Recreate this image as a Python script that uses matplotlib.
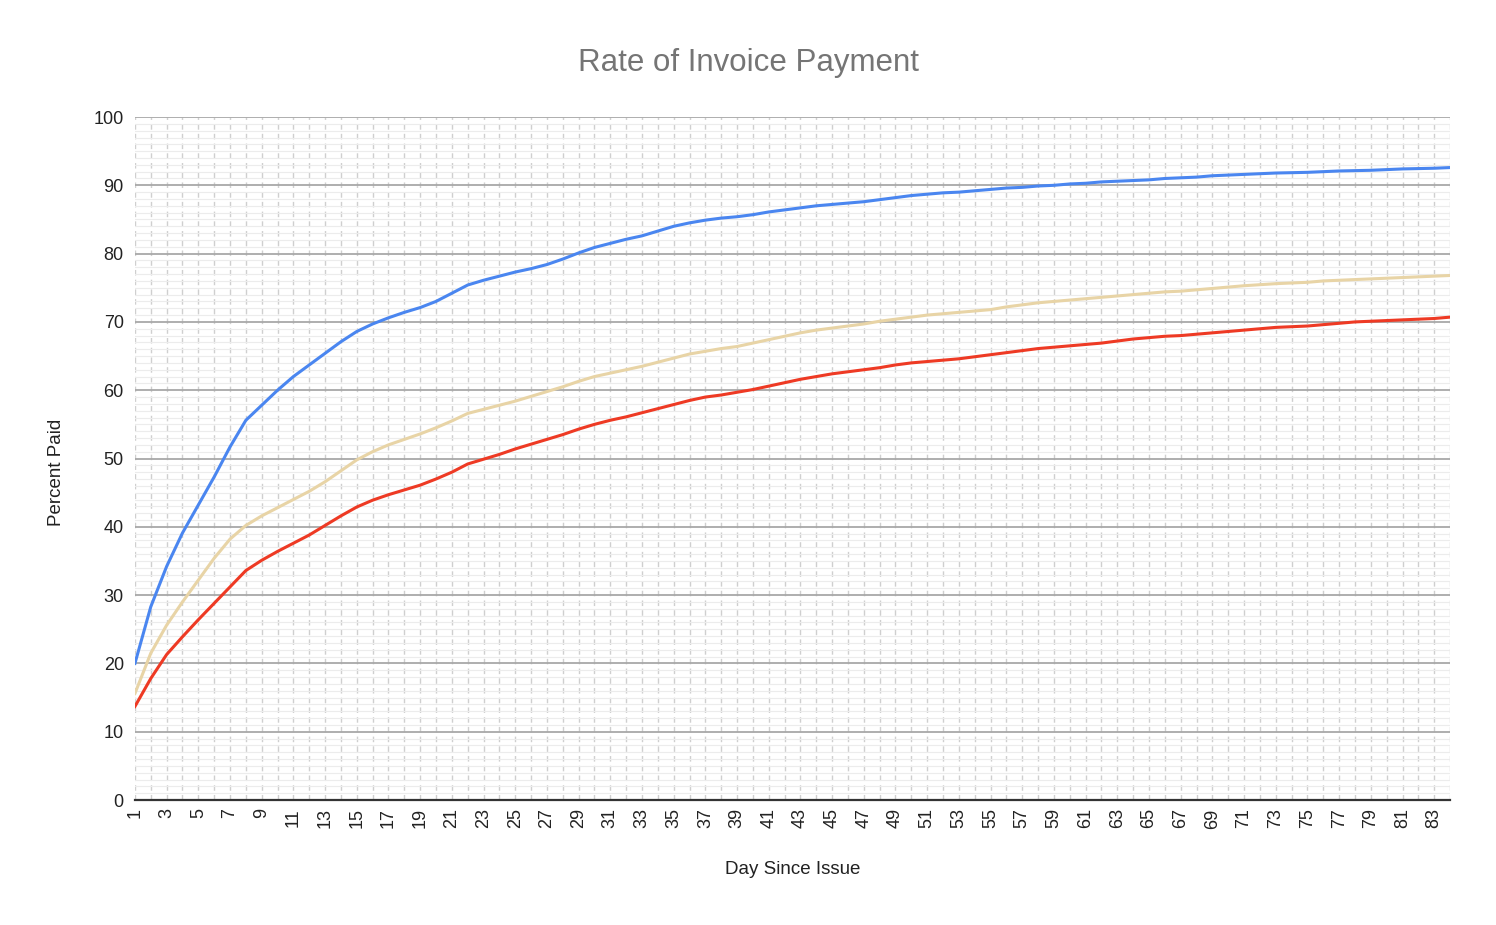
import numpy as np
import matplotlib
matplotlib.use('Agg')
import matplotlib.pyplot as plt
from matplotlib.ticker import MultipleLocator

plt.rcParams['font.family'] = ['Liberation Sans', 'DejaVu Sans']

# dias desde la emision de la factura
days = list(range(1, 85))

# serie azul
paid_blue = [20.0, 28.3, 34.2, 39.1, 43.2, 47.3, 51.7, 55.6, 57.8, 60.0,
             62.0, 63.7, 65.4, 67.1, 68.6, 69.7, 70.6, 71.4, 72.1, 73.0,
             74.2, 75.4, 76.1, 76.7, 77.3, 77.8, 78.4, 79.2, 80.1, 80.9,
             81.5, 82.1, 82.6, 83.3, 84.0, 84.5, 84.9, 85.2, 85.4, 85.7,
             86.1, 86.4, 86.7, 87.0, 87.2, 87.4, 87.6, 87.9, 88.2, 88.5,
             88.7, 88.9, 89.0, 89.2, 89.4, 89.6, 89.7, 89.9, 90.0, 90.2,
             90.3, 90.5, 90.6, 90.7, 90.8, 91.0, 91.1, 91.2, 91.4, 91.5,
             91.6, 91.7, 91.8, 91.85, 91.9, 92.0, 92.1, 92.15, 92.2, 92.3,
             92.4, 92.45, 92.5, 92.6]

# serie beige
paid_tan = [15.6, 21.5, 25.6, 29.0, 32.2, 35.4, 38.2, 40.2, 41.6, 42.8,
            44.0, 45.2, 46.6, 48.2, 49.8, 51.0, 52.0, 52.8, 53.6, 54.5,
            55.5, 56.6, 57.2, 57.8, 58.4, 59.1, 59.8, 60.5, 61.3, 62.0,
            62.5, 63.0, 63.5, 64.1, 64.7, 65.3, 65.7, 66.1, 66.4, 66.9,
            67.4, 67.9, 68.4, 68.8, 69.1, 69.4, 69.7, 70.1, 70.4, 70.7,
            71.0, 71.2, 71.4, 71.6, 71.8, 72.2, 72.5, 72.8, 73.0, 73.2,
            73.4, 73.6, 73.8, 74.0, 74.2, 74.4, 74.5, 74.7, 74.9, 75.1,
            75.3, 75.45, 75.6, 75.7, 75.8, 76.0, 76.1, 76.2, 76.3, 76.4,
            76.5, 76.6, 76.7, 76.8]

# serie roja
paid_red = [13.7, 17.8, 21.3, 23.9, 26.4, 28.8, 31.2, 33.6, 35.1, 36.4,
            37.6, 38.8, 40.2, 41.6, 42.9, 43.9, 44.7, 45.4, 46.1, 47.0,
            48.0, 49.2, 49.9, 50.6, 51.4, 52.1, 52.8, 53.5, 54.3, 55.0,
            55.6, 56.1, 56.7, 57.3, 57.9, 58.5, 59.0, 59.3, 59.7, 60.1,
            60.6, 61.1, 61.6, 62.0, 62.4, 62.7, 63.0, 63.3, 63.7, 64.0,
            64.2, 64.4, 64.6, 64.9, 65.2, 65.5, 65.8, 66.1, 66.3, 66.5,
            66.7, 66.9, 67.2, 67.5, 67.7, 67.9, 68.0, 68.2, 68.4, 68.6,
            68.8, 69.0, 69.2, 69.3, 69.4, 69.6, 69.8, 70.0, 70.1, 70.2,
            70.3, 70.4, 70.5, 70.7]

x_ticks = list(range(1, 84, 2))
y_ticks = list(range(0, 101, 10))

fig = plt.figure(figsize=(14.96, 9.25), dpi=100)
ax = fig.add_axes([0.0902, 0.1351, 0.8791, 0.7384])

# rejilla: menores horizontales, verticales discontinuas por dia, mayores horizontales
ax.yaxis.set_minor_locator(MultipleLocator(1))
ax.grid(which='minor', axis='y', color='#ececec', lw=0.8, zorder=0)
for d in days:
    ax.axvline(d, color='#cfcfcf', lw=1.0, ls=(0, (4, 3)), zorder=1)
ax.grid(which='major', axis='y', color='#a8a8a8', lw=1.3, zorder=2)

ax.plot(days, paid_tan, color='#e8d4a6', lw=2.2, zorder=4)
ax.plot(days, paid_red, color='#ee3a24', lw=2.2, zorder=5)
ax.plot(days, paid_blue, color='#4a86f0', lw=2.2, zorder=6)

ax.set_xlim(1, 84)
ax.set_ylim(0, 100)
ax.set_xticks(x_ticks)
ax.set_xticklabels([str(t) for t in x_ticks], rotation=90, fontsize=13, color='#222222')
ax.set_yticks(y_ticks)
ax.set_yticklabels([str(t) for t in y_ticks], fontsize=13, color='#222222')
ax.tick_params(axis='both', which='both', length=0)
ax.tick_params(axis='x', pad=6)
ax.tick_params(axis='y', pad=8)

for s in ['top', 'right', 'left']:
    ax.spines[s].set_visible(False)
ax.spines['bottom'].set_color('#333333')
ax.spines['bottom'].set_linewidth(1.6)
ax.spines['bottom'].set_zorder(7)

ax.set_xlabel('Day Since Issue', fontsize=13.5, color='#222222', labelpad=23)
ax.set_ylabel('Percent Paid', fontsize=13.5, color='#222222')
ax.yaxis.set_label_coords(-0.053, 0.48)
fig.text(0.5, 0.932, 'Rate of Invoice Payment', ha='center', va='center',
         fontsize=22.5, color='#757575')

fig.savefig('out.png', dpi=100, facecolor='white')
